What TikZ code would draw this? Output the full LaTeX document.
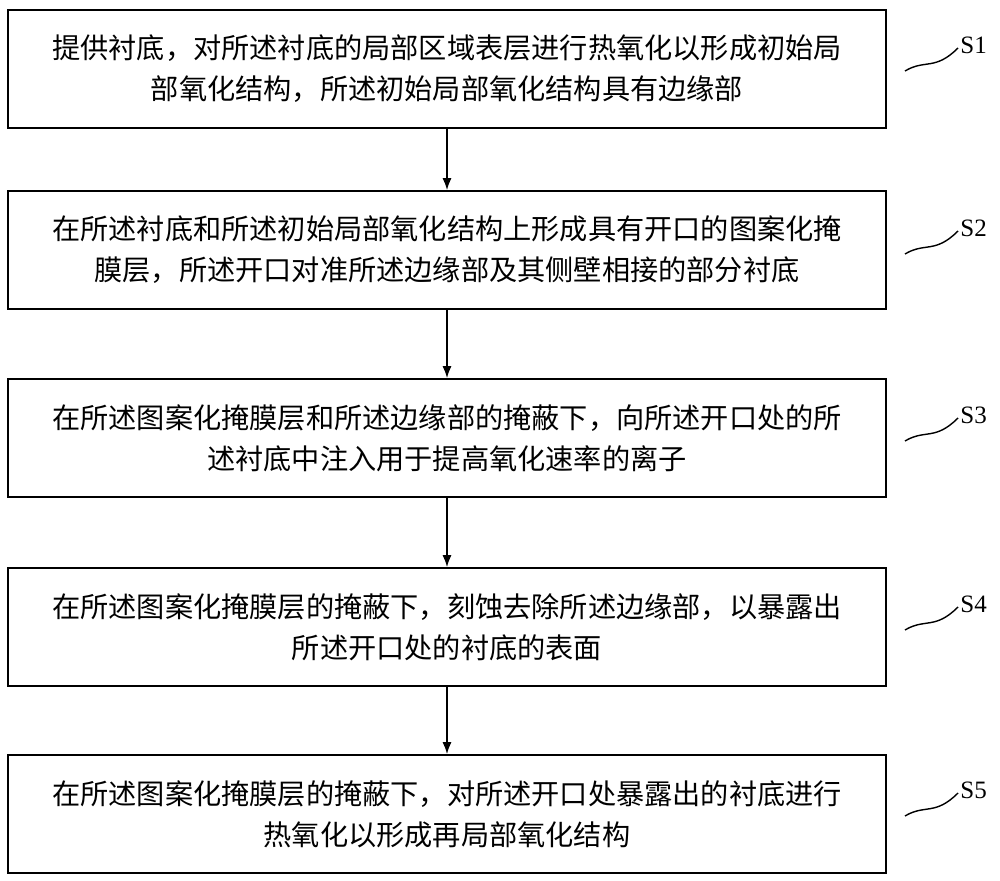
\documentclass[tikz,border=0pt]{standalone}
\usepackage{fontspec}
\newfontfamily\cjk{Noto Sans CJK SC}
\setmainfont{Liberation Serif}
\begin{document}
\begin{tikzpicture}[x=0.5pt,y=-0.5pt,
  stepbox/.style={draw,line width=0.8pt,minimum width=439pt,minimum height=59pt,align=center,inner sep=0pt,
    font=\cjk\fontsize{14.1}{20.5}\selectfont},
  arr/.style={-{Latex[length=6pt,width=4.5pt]},line width=0.8pt},
  lab/.style={font=\fontsize{12.5}{14}\selectfont,anchor=west,inner sep=0pt}]
\usetikzlibrary{arrows.meta}
\useasboundingbox (0,0) rectangle (1000,881);
\node[stepbox] (b1) at (447,69) {提供衬底，对所述衬底的局部区域表层进行热氧化以形成初始局\\部氧化结构，所述初始局部氧化结构具有边缘部};
\node[stepbox] (b2) at (447,250) {在所述衬底和所述初始局部氧化结构上形成具有开口的图案化掩\\膜层，所述开口对准所述边缘部及其侧壁相接的部分衬底};
\node[stepbox] (b3) at (447,438) {在所述图案化掩膜层和所述边缘部的掩蔽下，向所述开口处的所\\述衬底中注入用于提高氧化速率的离子};
\node[stepbox] (b4) at (447,627) {在所述图案化掩膜层的掩蔽下，刻蚀去除所述边缘部，以暴露出\\所述开口处的衬底的表面};
\node[stepbox] (b5) at (447,814) {在所述图案化掩膜层的掩蔽下，对所述开口处暴露出的衬底进行\\热氧化以形成再局部氧化结构};
\draw[arr] (b1) -- (b2);
\draw[arr] (b2) -- (b3);
\draw[arr] (b3) -- (b4);
\draw[arr] (b4) -- (b5);
\foreach \i/\y in {1/45,2/228,3/415,4/604,5/790}{
  \node[lab] (s\i) at (960,\y) {S\i};
  \coordinate (w\i) at (905,\y+26);
  \draw[line width=0.7pt] (w\i) .. controls (925,\y+14) and (935,\y+26) .. (958,\y+3);
}
\end{tikzpicture}
\end{document}
